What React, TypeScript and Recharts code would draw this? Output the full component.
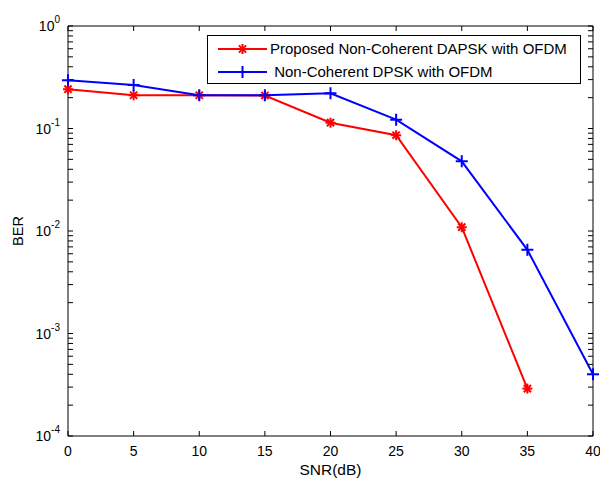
import React from "react";
import { LineChart, Line, XAxis, YAxis, Legend } from "recharts";

const snr = [0, 5, 10, 15, 20, 25, 30, 35, 40];
const dapsk = [0.242, 0.211, 0.211, 0.21, 0.114, 0.086, 0.0109, 0.00029];
const dpsk = [0.296, 0.265, 0.211, 0.211, 0.221, 0.122, 0.0478, 0.00655, 0.0004];
const xTicks = [0, 5, 10, 15, 20, 25, 30, 35, 40];
const majorTicks = [1e-4, 1e-3, 1e-2, 1e-1, 1];
const minorSteps = [2, 3, 4, 5, 6, 7, 8, 9];

const yTicks: number[] = [];
majorTicks.forEach((m, i) => {
  yTicks.push(m);
  if (i < majorTicks.length - 1) minorSteps.forEach((s) => yTicks.push(+(m * s).toPrecision(3)));
});

const rows = snr.map((s, i) => ({ snr: s, dapsk: dapsk[i], dpsk: dpsk[i] }));

const FONT = '"Liberation Sans", Arial, sans-serif';

const StarDot = (props: any) => {
  const { cx, cy } = props;
  if (cx == null || cy == null || props.value == null) return null;
  const r = 5;
  const d = 3.6;
  return (
    <g stroke="#ff0000" strokeWidth={2}>
      <line x1={cx - r} y1={cy} x2={cx + r} y2={cy} />
      <line x1={cx} y1={cy - r} x2={cx} y2={cy + r} />
      <line x1={cx - d} y1={cy - d} x2={cx + d} y2={cy + d} />
      <line x1={cx - d} y1={cy + d} x2={cx + d} y2={cy - d} />
    </g>
  );
};

const PlusDot = (props: any) => {
  const { cx, cy } = props;
  if (cx == null || cy == null || props.value == null) return null;
  const r = 6;
  return (
    <g stroke="#0000ff" strokeWidth={2}>
      <line x1={cx - r} y1={cy} x2={cx + r} y2={cy} />
      <line x1={cx} y1={cy - r} x2={cx} y2={cy + r} />
    </g>
  );
};

const YTick = (props: any) => {
  const { x, y, payload } = props;
  const exp = Math.log10(payload.value);
  if (Math.abs(exp - Math.round(exp)) > 1e-6) return <g />;
  return (
    <text x={x} y={y} textAnchor="end" fontFamily={FONT} fontSize={14} fill="#000">
      <tspan dy={5}>10</tspan>
      <tspan dy={-8} fontSize={10}>{Math.round(exp)}</tspan>
    </text>
  );
};

const Empty = () => <g />;

const LegendBox = () => {
  const items = [
    { label: "Proposed Non-Coherent DAPSK with OFDM", color: "#ff0000", Dot: StarDot },
    { label: " Non-Coherent DPSK with OFDM", color: "#0000ff", Dot: PlusDot },
  ];
  return (
    <svg width={374} height={49} style={{ display: "block" }}>
      <rect x={0.5} y={0.5} width={373} height={48} fill="#fff" stroke="#000" strokeWidth={1} />
      {items.map((it, i) => {
        const cy = 14 + i * 23;
        return (
          <g key={i}>
            <line x1={11} y1={cy} x2={60} y2={cy} stroke={it.color} strokeWidth={2} />
            <it.Dot cx={35.5} cy={cy} value={1} />
            <text x={63} y={cy + 5} fontFamily={FONT} fontSize={15} fill="#000" style={{ whiteSpace: "pre" }}>
              {it.label}
            </text>
          </g>
        );
      })}
    </svg>
  );
};

export default function App() {
  return (
    <div style={{ position: "absolute", left: 0, top: 0, width: 600, height: 478, background: "#fff" }}>
      <LineChart width={600} height={478} data={rows} margin={{ top: 0, right: 0, bottom: 0, left: 0 }}>
        <XAxis
          dataKey="snr"
          type="number"
          domain={[0, 40]}
          ticks={xTicks}
          interval={0}
          height={42}
          tickSize={-5}
          tickMargin={15}
          axisLine={{ stroke: "#000" }}
          tickLine={{ stroke: "#000" }}
          tick={{ fill: "#000", fontSize: 14, fontFamily: FONT }}
          label={{ value: "SNR(dB)", position: "insideBottom", offset: 3, fill: "#000", fontSize: 15.5, fontFamily: FONT }}
        />
        <XAxis
          xAxisId="top"
          orientation="top"
          dataKey="snr"
          type="number"
          domain={[0, 40]}
          allowDataOverflow
          ticks={xTicks}
          interval={0}
          height={26}
          tickSize={-5}
          axisLine={{ stroke: "#000" }}
          tickLine={{ stroke: "#000" }}
          tick={Empty}
        />
        <YAxis
          type="number"
          scale="log"
          domain={[1e-4, 1]}
          allowDataOverflow
          ticks={yTicks}
          interval={0}
          width={68}
          tickSize={-5}
          tickMargin={13}
          axisLine={{ stroke: "#000" }}
          tickLine={{ stroke: "#000" }}
          tick={YTick}
          label={{ value: "BER", angle: -90, position: "center", dx: -16, fill: "#000", fontSize: 14.5, fontFamily: FONT }}
        />
        <YAxis
          yAxisId="right"
          orientation="right"
          type="number"
          scale="log"
          domain={[1e-4, 1]}
          allowDataOverflow
          ticks={yTicks}
          interval={0}
          width={7}
          tickSize={-5}
          axisLine={{ stroke: "#000" }}
          tickLine={{ stroke: "#000" }}
          tick={Empty}
        />
        <Legend
          layout="vertical"
          align="center"
          verticalAlign="middle"
          wrapperStyle={{ top: 35, left: 207, width: 374, height: 49 }}
          content={() => <LegendBox />}
        />
        <Line
          dataKey="dapsk"
          name="Proposed Non-Coherent DAPSK with OFDM"
          stroke="#ff0000"
          strokeWidth={2}
          dot={StarDot}
          activeDot={false}
          isAnimationActive={false}
        />
        <Line
          dataKey="dpsk"
          name="Non-Coherent DPSK with OFDM"
          stroke="#0000ff"
          strokeWidth={2}
          dot={PlusDot}
          activeDot={false}
          isAnimationActive={false}
        />
      </LineChart>
    </div>
  );
}
